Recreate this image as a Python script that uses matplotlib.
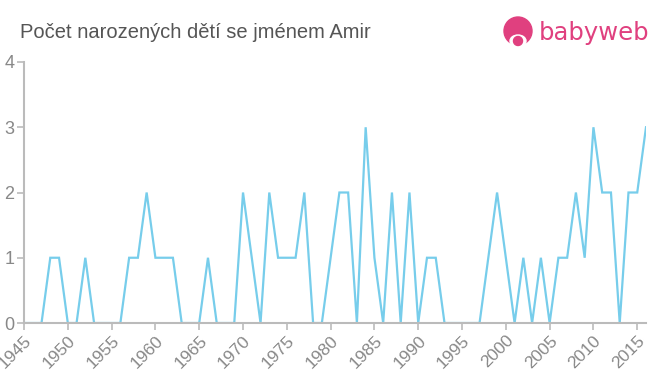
import matplotlib
matplotlib.use("Agg")
import matplotlib.pyplot as plt
from matplotlib.patches import Circle, Ellipse

plt.rcParams["font.family"] = ["Liberation Sans", "DejaVu Sans"]

years = list(range(1945, 2017))
counts = [0, 0, 0, 1, 1, 0, 0, 1, 0, 0,
          0, 0, 1, 1, 2, 1, 1, 1, 0, 0,
          0, 1, 0, 0, 0, 2, 1, 0, 2, 1,
          1, 1, 2, 0, 0, 1, 2, 2, 0, 3,
          1, 0, 2, 0, 2, 0, 1, 1, 0, 0,
          0, 0, 0, 1, 2, 1, 0, 1, 0, 1,
          0, 1, 1, 2, 1, 3, 2, 2, 0, 2,
          2, 3]
xticks = list(range(1945, 2016, 5))
yticks = [0, 1, 2, 3, 4]
title = "Počet narozených dětí se jménem Amir"

fig = plt.figure(figsize=(6.6, 3.75), dpi=100)
ax = fig.add_axes([24/660, 1-323/375, (646-24)/660, (323-62)/375])
ax.plot(years, counts, color="#77cdeb", lw=1.6, solid_joinstyle="miter")
ax.set_xlim(1945, 2016)
ax.set_ylim(0, 4)
ax.set_xticks(xticks)
ax.set_xticklabels([str(t) for t in xticks], rotation=45, ha="right",
                   rotation_mode="anchor", color="#888888", fontsize=12.5)
ax.set_yticks(yticks)
ax.set_yticklabels([str(t) for t in yticks], color="#888888", fontsize=13)
for s in ["top", "right"]:
    ax.spines[s].set_visible(False)
for s in ["left", "bottom"]:
    ax.spines[s].set_color("#bbbbbb")
    ax.spines[s].set_linewidth(1.5)
ax.tick_params(axis="both", colors="#bbbbbb", length=5, width=1.2, labelcolor="#888888")
ax.tick_params(axis="x", pad=2)
ax.tick_params(axis="y", pad=2)

fig.text(20/660, 1-32/375, title, fontsize=14.5, color="#555555", va="center", ha="left")

# logo
pink = "#e0407f"
lax = fig.add_axes([0, 0, 1, 1], facecolor="none")
lax.set_xlim(0, 660)
lax.set_ylim(375, 0)
lax.axis("off")
lax.add_patch(Circle((518, 31), 14, color=pink))
lax.add_patch(Ellipse((518, 41), 16, 12, color="white"))
lax.add_patch(Circle((518, 41), 4.5, color=pink))
lax.text(539, 33, "babyweb", fontsize=17.5, color=pink, va="center", ha="left",
         family="DejaVu Sans", weight="medium")

fig.savefig("out.png", dpi=100)
